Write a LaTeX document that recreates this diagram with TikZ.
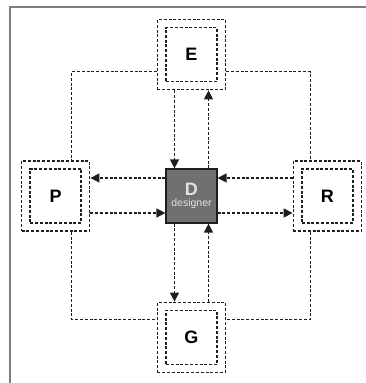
\documentclass[tikz,border=0pt]{standalone}
\usepackage{fontspec}
\setmainfont{Liberation Sans}
\usepackage{tikz}
\usetikzlibrary{arrows.meta,positioning}
\definecolor{linegray}{RGB}{30,30,30}
\definecolor{coregray}{RGB}{112,112,112}
\definecolor{framegray}{RGB}{125,125,125}
\definecolor{textlight}{RGB}{225,225,225}

\begin{document}
\begin{tikzpicture}[>={Triangle[length=9pt,width=9pt]}, x=1pt, y=1pt]
\tikzset{
  dline/.style={draw=linegray, line width=1.4pt, dash pattern=on 3pt off 1.8pt},
  arr/.style={dline, ->},
  outbox/.style={dline, minimum width=68pt, minimum height=70pt, inner sep=0pt},
  inbox/.style={dline, minimum width=51pt, minimum height=54pt, inner sep=0pt, font=\fontsize{18}{18}\selectfont\bfseries},
  core/.style={draw=linegray, line width=1.2pt, fill=coregray, minimum width=51pt, minimum height=54pt, inner sep=0pt, align=center, text=textlight}
}
\useasboundingbox (-191.5,-187) rectangle (174.5,196);
% panel frame
\draw[framegray, line width=1.5pt] (-181.5,-187) -- (-181.5,189) -- (174.5,189);

\node[core] (d) at (0,0) {{\fontsize{18}{18}\selectfont\bfseries D}\\[-1pt]{\fontsize{10.5}{10.5}\selectfont designer}};
\node[outbox, above=78pt of d] (eo) {};
\node[outbox, below=78pt of d] (go) {};
\node[outbox, left=75pt of d] (po) {};
\node[outbox, right=75pt of d] (ro) {};
\node[inbox] (e) at (eo) {E};
\node[inbox] (g) at (go) {G};
\node[inbox] (p) at (po) {P};
\node[inbox] (r) at (ro) {R};

% outer ring
\draw[dline] ([yshift=-17pt]eo.west) -| ([xshift=16pt]po.north);
\draw[dline] ([yshift=-17pt]eo.east) -| ([xshift=-17pt]ro.north);
\draw[dline] ([xshift=16pt]po.south) |- ([yshift=18pt]go.west);
\draw[dline] ([xshift=-17pt]ro.south) |- ([yshift=18pt]go.east);

% links to the designer
\draw[arr] ([xshift=-17pt]eo.south) -- ([xshift=-17pt]d.north);
\draw[arr] ([xshift=17pt]d.north) -- ([xshift=17pt]eo.south);
\draw[arr] ([xshift=-17pt]d.south) -- ([xshift=-17pt]go.north);
\draw[arr] ([xshift=17pt]go.north) -- ([xshift=17pt]d.south);
\draw[arr] ([yshift=18pt]d.west) -- ([yshift=18pt]po.east);
\draw[arr] ([yshift=-17pt]po.east) -- ([yshift=-17pt]d.west);
\draw[arr] ([yshift=18pt]ro.west) -- ([yshift=18pt]d.east);
\draw[arr] ([yshift=-17pt]d.east) -- ([yshift=-17pt]ro.west);
\end{tikzpicture}
\end{document}
